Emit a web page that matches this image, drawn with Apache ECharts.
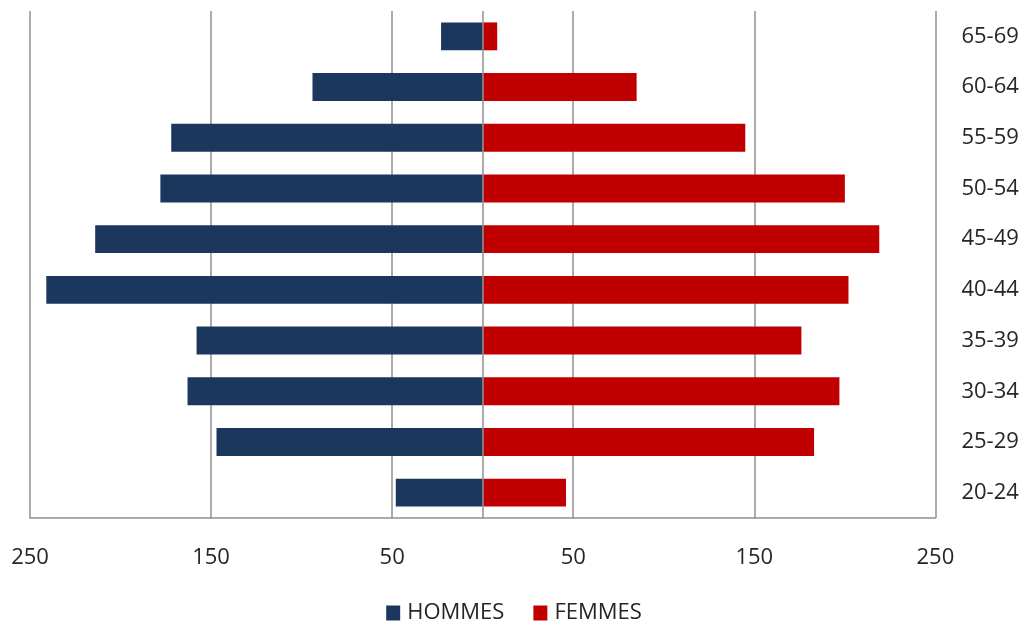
<!DOCTYPE html>
<html>
<head>
<meta charset="utf-8">
<title>Pyramide des âges</title>
<script src="https://cdn.jsdelivr.net/npm/echarts@6/dist/echarts.min.js"></script>
<style>
  html, body { margin: 0; padding: 0; background: #ffffff; }
  #chart { width: 1028px; height: 626px; }
</style>
</head>
<body>
<div id="chart"></div>
<script>
// Age groups, bottom to top
const ageGroups = ['20-24', '25-29', '30-34', '35-39', '40-44', '45-49', '50-54', '55-59', '60-64', '65-69'];
// Head counts per age group
const hommes = [48, 147, 163, 158, 241, 214, 178, 172, 94, 23];
const femmes = [46, 183, 197, 176, 202, 219, 200, 145, 85, 8];
// Value axis ticks (shown as absolute numbers on both sides)
const axisMin = -250;
const axisMax = 250;
const axisStep = 100;

const textColor = '#262626';
const gridColor = '#8f8f8f';
const fontFamily = '"Open Sans", "Noto Sans", sans-serif';

const chart = echarts.init(document.getElementById('chart'), null, { renderer: 'canvas' });

chart.setOption({
  animation: false,
  backgroundColor: '#ffffff',
  textStyle: { fontFamily: fontFamily },
  grid: { left: 30, right: 92.6, top: 11, bottom: 108, containLabel: false },
  legend: {
    left: 'center',
    top: 597,
    itemWidth: 14,
    itemHeight: 15,
    itemGap: 29,
    icon: 'rect',
    textStyle: { color: textColor, fontSize: 22, fontFamily: fontFamily, padding: [0, 0, 0, 2] },
    data: ['HOMMES', 'FEMMES']
  },
  xAxis: {
    type: 'value',
    min: axisMin,
    max: axisMax,
    interval: axisStep,
    axisLine: { show: true, lineStyle: { color: gridColor, width: 1.5 } },
    axisTick: { show: false },
    axisLabel: {
      margin: 29,
      color: textColor,
      fontSize: 22,
      fontFamily: fontFamily,
      formatter: v => String(Math.abs(v))
    },
    splitLine: { show: true, lineStyle: { color: gridColor, width: 1.5 } }
  },
  yAxis: {
    type: 'category',
    position: 'right',
    data: ageGroups,
    axisLine: { show: false },
    axisTick: { show: false },
    axisLabel: {
      margin: 26,
      color: textColor,
      fontSize: 22,
      fontFamily: fontFamily,
      padding: [6, 0, 0, 0]
    },
    splitLine: { show: false }
  },
  series: [
    {
      name: 'HOMMES',
      type: 'bar',
      stack: 'pyramide',
      barWidth: '55%',
      itemStyle: { color: '#1b375e' },
      data: hommes.map(v => -v),
      markLine: {
        silent: true,
        symbol: 'none',
        label: { show: false },
        lineStyle: { color: gridColor, width: 1.5, type: 'solid' },
        data: [{ xAxis: 0 }]
      }
    },
    {
      name: 'FEMMES',
      type: 'bar',
      stack: 'pyramide',
      barWidth: '55%',
      itemStyle: { color: '#c00000' },
      data: femmes
    }
  ]
});
</script>
</body>
</html>
